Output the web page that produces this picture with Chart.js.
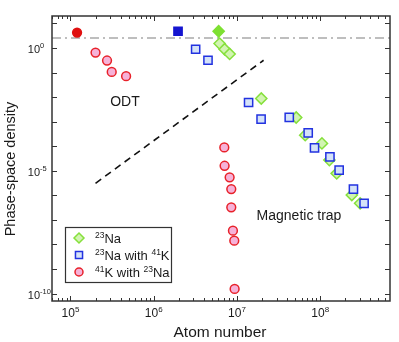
<!DOCTYPE html>
<html>
<head>
<meta charset="utf-8">
<script src="https://cdn.jsdelivr.net/npm/chart.js@4.4.1/dist/chart.umd.min.js"></script>
<style>
  html, body { margin: 0; padding: 0; background: #fff; }
</style>
</head>
<body>
<canvas id="psdChart" width="399" height="342"></canvas>
<script>
// 23Na alone (first point: condensed)
const naBecX = [6.03e6];
const naBecY = [4.78];
const naX = [6.19e6, 7.11e6, 8.17e6, 1.96e7, 5.15e7, 6.61e7, 1.05e8, 1.29e8, 1.58e8, 2.40e8, 3.02e8];
const naY = [1.51, 0.885, 0.570, 8.77e-3, 1.48e-3, 2.82e-4, 1.30e-4, 2.72e-5, 7.83e-6, 1.03e-6, 4.73e-7];

// 23Na with 41K
const naKBecX = [1.96e6];
const naKBecY = [4.78];
const naKX = [3.19e6, 4.49e6, 1.38e7, 1.95e7, 4.25e7, 7.18e7, 8.55e7, 1.31e8, 1.69e8, 2.51e8, 3.37e8];
const naKY = [0.885, 0.316, 6.03e-3, 1.26e-3, 1.48e-3, 3.51e-4, 8.61e-5, 3.71e-5, 1.07e-5, 1.80e-6, 4.73e-7];

// 41K with 23Na
const kBecX = [1.20e5];
const kBecY = [4.23];
const kX = [2.0e5, 2.75e5, 3.13e5, 4.66e5, 7.05e6, 7.11e6, 8.17e6, 8.55e6, 8.55e6, 8.95e6, 9.29e6, 9.38e6];
const kY = [0.65, 0.308, 0.106, 0.0708, 8.93e-5, 1.60e-5, 5.40e-6, 1.80e-6, 3.25e-7, 3.64e-8, 1.43e-8, 1.55e-10];

// guide lines
const slopeX = [2.0e5, 2.09e7];
const slopeY = [3.1e-6, 0.316];
const criticalPsd = 2.55;

const xTicks = [1e5, 1e6, 1e7, 1e8];
const xTickExp = ['5', '6', '7', '8'];
const yTicks = [1, 1e-5, 1e-10];
const yTickExp = ['0', '-5', '-10'];

const toPts = (xs, ys) => xs.map((x, i) => ({ x: x, y: ys[i] }));

const GREEN = '#86e03c', GREEN_FILL = '#d2f4b2';
const BLUE = '#2232e0', BLUE_FILL = '#d4e2f8';
const RED = '#e8222a', RED_FILL = '#f6b2d8';
const FONT = '"Liberation Sans", Arial, sans-serif';

function supText(ctx, parts, x, y, align, size, supSize) {
    // parts: [[text, isSup], ...]; y = baseline of the normal text
    let total = 0;
    const widths = parts.map(p => {
        ctx.font = (p[1] ? supSize : size) + 'px ' + FONT;
        const w = ctx.measureText(p[0]).width;
        total += w;
        return w;
    });
    let cx = align === 'center' ? x - total / 2 : align === 'right' ? x - total : x;
    ctx.textAlign = 'left';
    ctx.textBaseline = 'alphabetic';
    parts.forEach((p, i) => {
        ctx.font = (p[1] ? supSize : size) + 'px ' + FONT;
        ctx.fillText(p[0], cx, p[1] ? y - size * 0.4 : y);
        cx += widths[i];
    });
}

const frame = {
    id: 'frame',
    beforeDatasetsDraw(chart) {
        const { ctx, chartArea: a, scales: { x, y } } = chart;
        ctx.save();
        // critical PSD line
        const yc = y.getPixelForValue(criticalPsd);
        ctx.strokeStyle = '#a9a9a9';
        ctx.lineWidth = 1.5;
        ctx.setLineDash([9, 4, 2, 4]);
        ctx.beginPath();
        ctx.moveTo(a.left, yc);
        ctx.lineTo(a.right, yc);
        ctx.stroke();
        ctx.setLineDash([]);

        // ticks
        ctx.strokeStyle = '#333';
        ctx.lineWidth = 1;
        ctx.beginPath();
        for (let e = 4; e <= 8; e++) {
            for (let m = 1; m <= 9; m++) {
                const v = m * Math.pow(10, e);
                if (v < x.min || v > x.max) continue;
                const px = Math.round(x.getPixelForValue(v)) + 0.5;
                const len = m === 1 ? 5 : 3;
                ctx.moveTo(px, a.bottom);
                ctx.lineTo(px, a.bottom - len);
                ctx.moveTo(px, a.top);
                ctx.lineTo(px, a.top + len);
            }
        }
        for (let e = -10; e <= 1; e++) {
            const py = Math.round(y.getPixelForValue(Math.pow(10, e))) + 0.5;
            ctx.moveTo(a.left, py);
            ctx.lineTo(a.left + 5, py);
            ctx.moveTo(a.right, py);
            ctx.lineTo(a.right - 5, py);
        }
        ctx.stroke();

        // tick labels
        ctx.fillStyle = '#1a1a1a';
        xTicks.forEach((v, i) => {
            supText(ctx, [['10', false], [xTickExp[i], true]], x.getPixelForValue(v), a.bottom + 16, 'center', 12, 8);
        });
        yTicks.forEach((v, i) => {
            const py = y.getPixelForValue(v) + 5;
            ctx.font = '11px ' + FONT;
            ctx.textAlign = 'right';
            ctx.textBaseline = 'alphabetic';
            ctx.fillText('10', a.left - 12, py);
            ctx.font = '7.5px ' + FONT;
            ctx.textAlign = 'left';
            ctx.fillText(yTickExp[i], a.left - 12, py - 4.5);
        });

        // axis titles
        ctx.font = '15.5px ' + FONT;
        ctx.textAlign = 'center';
        ctx.textBaseline = 'middle';
        ctx.fillText('Atom number', 220, 333);
        ctx.save();
        ctx.translate(11, 169);
        ctx.rotate(-Math.PI / 2);
        ctx.font = '14.5px ' + FONT;
        ctx.fillText('Phase-space density', 0, 0);
        ctx.restore();

        // region labels
        ctx.font = '14px ' + FONT;
        ctx.fillText('ODT', 125, 102);
        ctx.fillText('Magnetic trap', 299, 216);
        ctx.restore();
    },
    afterDraw(chart) {
        const { ctx, chartArea: a } = chart;
        ctx.save();
        ctx.strokeStyle = '#333';
        ctx.lineWidth = 1.5;
        ctx.strokeRect(a.left, a.top, a.right - a.left, a.bottom - a.top);

        // legend
        ctx.lineWidth = 1.2;
        ctx.strokeStyle = '#333';
        ctx.strokeRect(65.5, 227.5, 106, 55);
        const rows = [
            { style: 'rectRot', r: 5, c: GREEN, f: GREEN_FILL, y: 238, text: [['23', true], ['Na', false]] },
            { style: 'rect', r: 5, c: BLUE, f: BLUE_FILL, y: 255, text: [['23', true], ['Na with ', false], ['41', true], ['K', false]] },
            { style: 'circle', r: 4, c: RED, f: RED_FILL, y: 272, text: [['41', true], ['K with ', false], ['23', true], ['Na', false]] }
        ];
        rows.forEach(row => {
            ctx.fillStyle = row.f;
            ctx.strokeStyle = row.c;
            ctx.lineWidth = 1.5;
            Chart.helpers.drawPoint(ctx, { pointStyle: row.style, radius: row.r, rotation: 0, borderWidth: 1.5 }, 79, row.y);
            ctx.fillStyle = '#1a1a1a';
            supText(ctx, row.text, 95, row.y + 4.7, 'left', 13, 8.5);
        });
        ctx.restore();
    }
};

const marker = (style, r, color, fill) => ({
    pointStyle: style,
    pointRadius: r,
    pointHoverRadius: r,
    borderColor: color,
    backgroundColor: fill,
    pointBorderWidth: 1.5,
    showLine: false
});

new Chart(document.getElementById('psdChart'), {
    type: 'scatter',
    data: {
        datasets: [
            Object.assign({ label: '23Na with 41K (BEC)', data: toPts(naKBecX, naKBecY) }, marker('rect', 5.8, '#1515d0', '#1515d0')),
            Object.assign({ label: '23Na with 41K', data: toPts(naKX, naKY) }, marker('rect', 5.8, BLUE, BLUE_FILL)),
            Object.assign({ label: '23Na (BEC)', data: toPts(naBecX, naBecY) }, marker('rectRot', 5.6, '#7ee032', '#7ee032')),
            Object.assign({ label: '23Na', data: toPts(naX, naY) }, marker('rectRot', 5.6, GREEN, GREEN_FILL)),
            Object.assign({ label: '41K with 23Na (BEC)', data: toPts(kBecX, kBecY) }, marker('circle', 4.4, '#e01010', '#e01010')),
            Object.assign({ label: '41K with 23Na', data: toPts(kX, kY) }, marker('circle', 4.4, RED, RED_FILL)),
            {
                label: 'slope',
                data: toPts(slopeX, slopeY),
                showLine: true,
                borderColor: '#111',
                borderWidth: 1.6,
                borderDash: [7, 5],
                pointRadius: 0,
                fill: false
            }
        ]
    },
    options: {
        responsive: false,
        animation: false,
        layout: { padding: { left: 52, top: 16, right: 9, bottom: 41 } },
        plugins: {
            legend: { display: false },
            tooltip: { enabled: false }
        },
        scales: {
            x: { type: 'logarithmic', min: 6.0e4, max: 6.9e8, display: false },
            y: { type: 'logarithmic', min: 5e-11, max: 20, display: false }
        }
    },
    plugins: [frame]
});
</script>
</body>
</html>
